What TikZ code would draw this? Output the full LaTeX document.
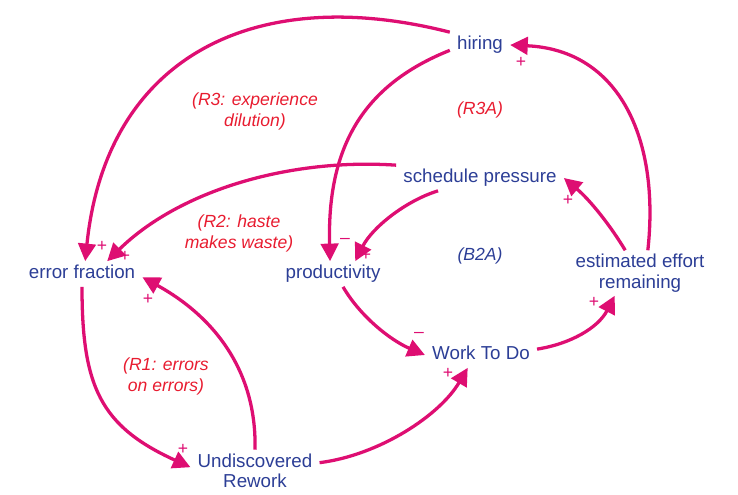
\documentclass[tikz,border=0pt]{standalone}
\usepackage{fontspec}
\setmainfont{Liberation Sans}
\usetikzlibrary{arrows.meta}

\definecolor{linkpink}{RGB}{222,14,114}
\definecolor{varblue}{RGB}{44,62,150}
\definecolor{looptext}{RGB}{232,28,48}

\begin{document}
\begin{tikzpicture}[
    x=0.03cm, y=-0.03cm,
    var/.style={text=varblue, font=\fontsize{16}{17.5}\selectfont, inner xsep=6pt, inner ysep=3pt},
    oneline/.style={var, text height=12pt, text depth=3.5pt},
    twoline/.style={var, align=center},
    loop/.style={text=looptext, font=\fontsize{15}{18}\selectfont\itshape, align=center},
    sign/.style={text=linkpink, font=\fontsize{15}{15}\selectfont, inner sep=0pt},
    link/.style={line width=2.8pt, draw=linkpink, -{Triangle[length=15pt, width=15pt]}}
]
    \useasboundingbox (0,0) rectangle (738,494);

    \node (hiring)  [oneline] at (480,45)  {hiring};
    \node (sched)   [oneline] at (480,178) {schedule pressure};
    \node (errfrac) [oneline] at (82,274)  {error fraction};
    \node (prod)    [oneline] at (333,274) {productivity};
    \node (work)    [oneline] at (481,355) {Work To Do};
    \node (effort)  [twoline] at (640,273) {estimated effort\\remaining};
    \node (rework)  [twoline] at (255,470.6) {Undiscovered\\Rework};

    \node (r3)  [loop] at (255,111) {(R3: experience\\dilution)};
    \node (r3a) [loop] at (480,110) {(R3A)};
    \node (r2)  [loop] at (239,233) {(R2: haste\\makes waste)};
    \node (b2a) [loop, text=varblue] at (480,256) {(B2A)};
    \node (r1)  [loop] at (166,376) {(R1: errors\\on errors)};

    \draw [link] (hiring.north west) .. controls (253,-18) and (106,58) .. (errfrac.76);
    \draw [link] (hiring.190) .. controls (363,85) and (327,147) .. (prod.103);
    \draw [link] (sched.north west) .. controls (290,158) and (180,190) .. (errfrac.27);
    \draw [link] (sched.197) .. controls (405,201) and (372,228) .. (prod.30);
    \draw [link] (errfrac.south) .. controls (82,386) and (100,426) .. (rework.177);
    \draw [link] (rework.north) .. controls (257,370) and (213,316) .. (errfrac.-3);
    \draw [link] (prod.-52) .. controls (360,316) and (390,340) .. (work.west);
    \draw [link] (rework.7) .. controls (380,455) and (440,415) .. (work.224);
    \draw [link] (work.6) .. controls (570,344) and (598,328) .. (effort.222);
    \draw [link] (effort.123) .. controls (610,225) and (590,200) .. (sched.east);
    \draw [link] (effort.71) .. controls (660,140) and (620,50) .. (hiring.east);

    \node (s1)  [sign] at (102,246) {+};
    \node (s2)  [sign] at (345,241) {\textendash};
    \node (s3)  [sign] at (125,256) {+};
    \node (s4)  [sign] at (366,255) {+};
    \node (s5)  [sign] at (183,449) {+};
    \node (s6)  [sign] at (148,299) {+};
    \node (s7)  [sign] at (419,335) {\textendash};
    \node (s8)  [sign] at (448,373) {+};
    \node (s9)  [sign] at (594,302) {+};
    \node (s10) [sign] at (568,200) {+};
    \node (s11) [sign] at (521,62)  {+};
\end{tikzpicture}
\end{document}
